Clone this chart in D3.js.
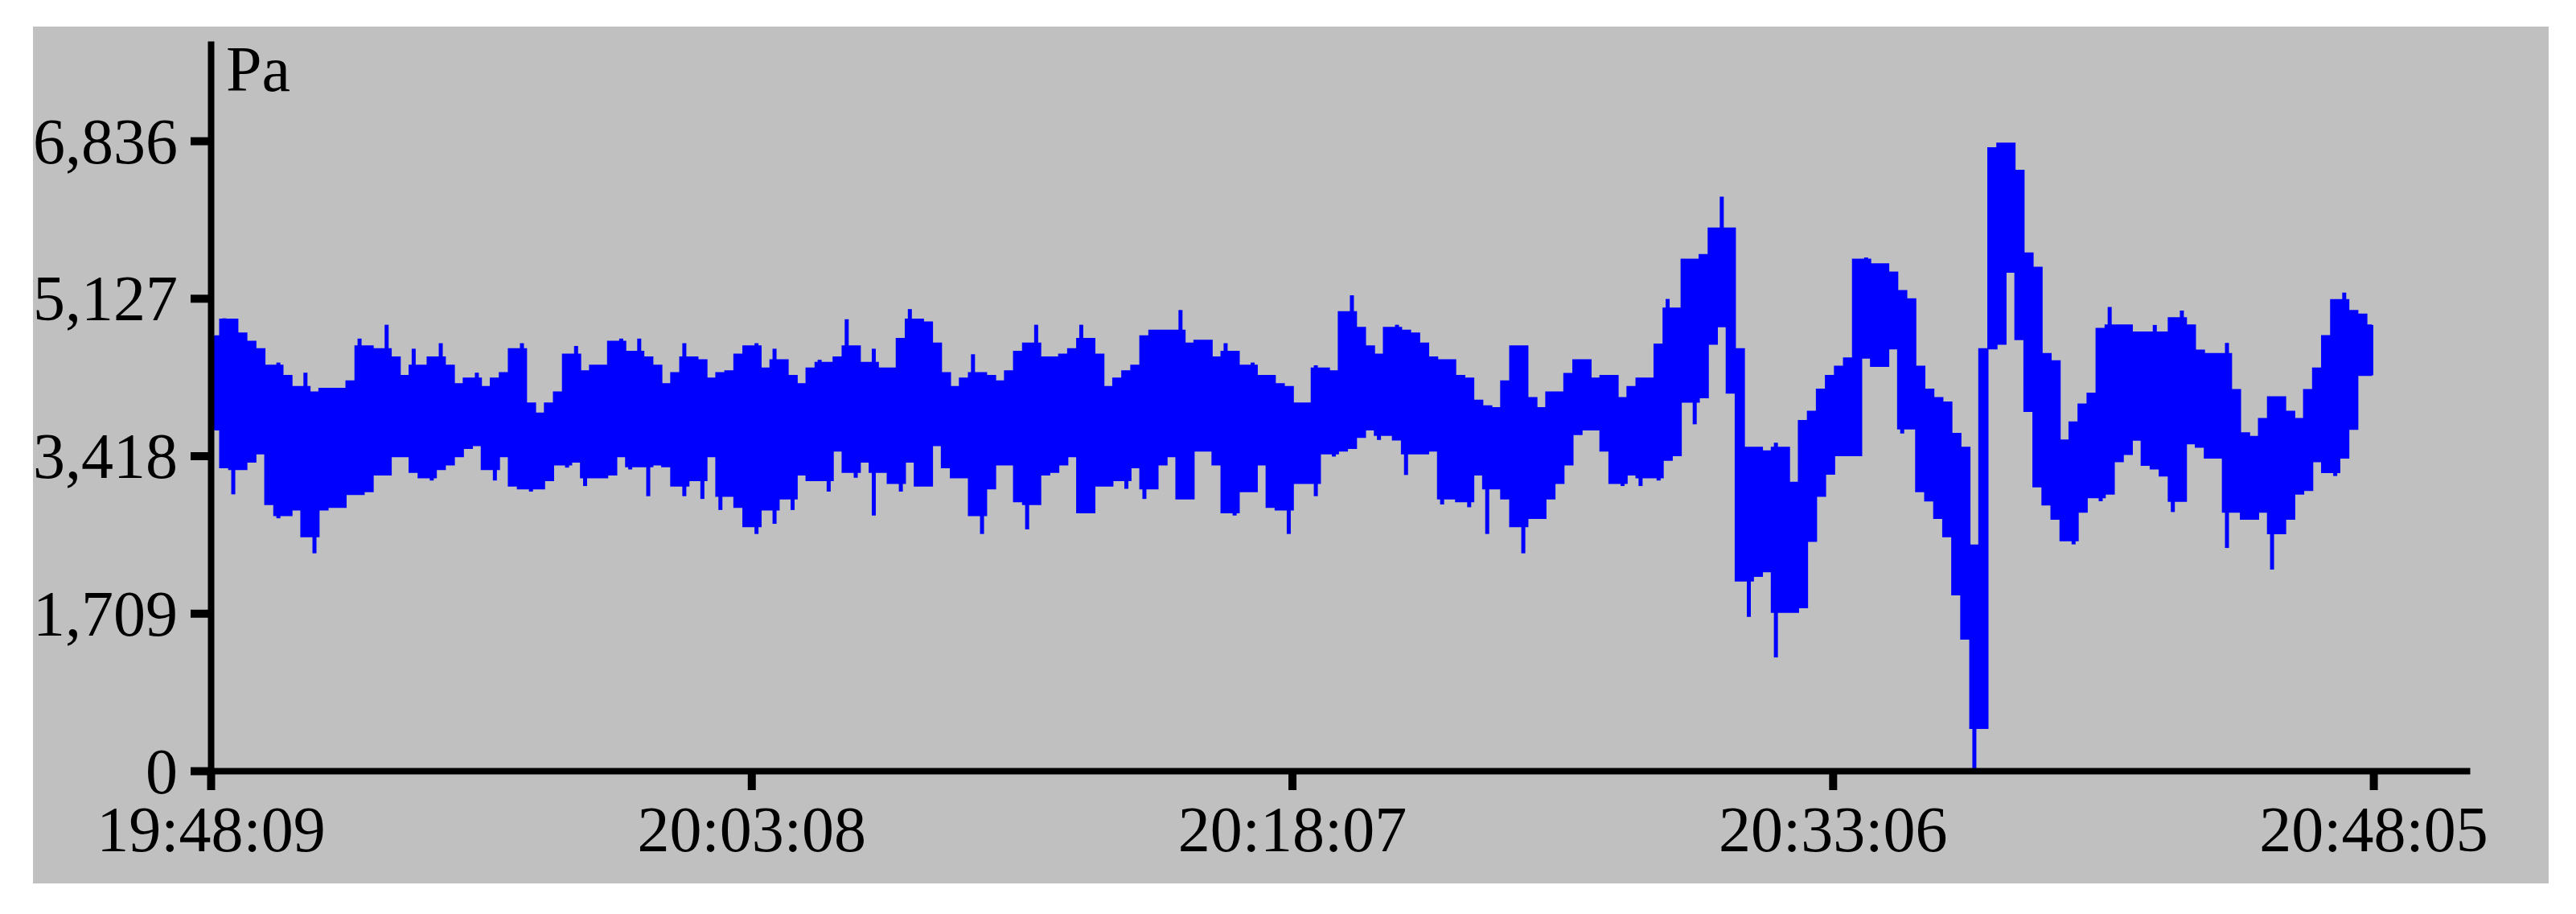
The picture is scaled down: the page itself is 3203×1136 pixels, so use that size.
<!DOCTYPE html>
<html><head><meta charset="utf-8">
<script src="https://cdn.jsdelivr.net/npm/d3@7"></script>
<style>html,body{margin:0;padding:0;background:#fff;} svg{display:block;}</style>
</head><body><svg id="chart" width="3203" height="1136"></svg>
<script>
// ---- data ----
const startTime = "19:48:09";
const xAxisEnd = "20:50:40";
const xTickLabels = ["19:48:09", "20:03:08", "20:18:07", "20:33:06", "20:48:05"];
const yTickValues = [0, 1709, 3418, 5127, 6836];
const yAxisMax = 7884;
const unitLabel = "Pa";
const binSeconds = 15;
// per-15s bin maximum (Pa)
const hi = [
4720,4910,4900,4750,4660,4580,4400,4430,4290,4170,4320,4110,4150,4150,4150,4230,4690,4610,4580,4840,
4490,4290,4580,4400,4490,4640,4400,4200,4260,4320,4170,4260,4320,4580,4640,3990,3880,3990,4110,4520,
4610,4340,4400,4400,4660,4690,4550,4690,4490,4400,4200,4320,4640,4490,4460,4260,4320,4340,4520,4610,
4640,4370,4580,4460,4290,4200,4370,4460,4430,4490,4900,4610,4430,4580,4370,4370,4690,5010,4900,4870,
4640,4320,4170,4260,4520,4320,4290,4230,4340,4550,4640,4840,4490,4490,4520,4580,4840,4690,4520,4170,
4260,4340,4400,4720,4780,4780,4780,5000,4640,4670,4670,4490,4640,4550,4400,4430,4290,4290,4200,4170,
3990,3990,4400,4370,4340,4980,5160,4810,4610,4520,4810,4840,4780,4750,4640,4490,4460,4460,4290,4260,
4020,3960,3940,4230,4610,4610,4050,3940,4110,4110,4310,4460,4460,4260,4290,4290,4050,4170,4260,4260,
4630,5120,5020,5550,5550,5600,5890,6230,5890,4580,3510,3510,3470,3560,3510,3130,3800,3900,4140,4290,
4390,4480,5550,5570,5500,5500,5410,5210,5120,4390,4140,4050,4000,3660,3510,2450,4580,6760,6810,6810,
6516,5619,5463,4526,4448,3589,3784,3979,4096,4799,5033,4838,4838,4760,4760,4838,4760,4916,4994,4838,
4565,4526,4526,4643,4136,3667,3628,3823,4057,4057,3901,3823,4136,4370,4721,5111,5189,4994,4955,4838
];
// per-15s bin minimum (Pa)
const lo = [
3700,3290,3000,3270,3350,3440,2890,2740,2770,2830,2540,2360,2830,2860,2860,3000,3000,3030,3210,3210,
3410,3410,3240,3180,3150,3270,3320,3410,3500,3530,3270,3150,3410,3090,3060,3030,3060,3150,3320,3290,
3350,3090,3180,3180,3210,3410,3270,3300,2980,3320,3300,3090,2980,3150,2950,3410,2830,2980,2860,2650,
2570,2830,2680,2950,2830,3210,3150,3150,3030,3470,3240,3180,3350,2770,3240,3120,3030,3350,3090,3090,
3530,3290,3180,3180,2770,2570,3060,3320,3320,2920,2620,2890,3210,3240,3320,3410,2800,2800,3090,3090,
3150,3060,3290,2950,3060,3320,3410,2950,2950,3470,3470,3320,2800,2770,3030,3030,3320,2860,2830,2570,
3120,3120,2980,3440,3410,3470,3500,3620,3700,3590,3640,3590,3210,3440,3440,3470,2890,2950,2920,2860,
3210,2570,3060,2950,2650,2360,2740,2740,2950,3120,3320,3650,3700,3700,3470,3120,3090,3210,3090,3180,
3150,3370,3420,4000,3760,4050,4630,4820,4100,2060,1670,2110,2160,1230,1720,1720,1770,2490,2980,3220,
3420,3420,3420,4480,4390,4390,4580,3660,3710,3030,2930,2740,2540,1910,1430,0,460,4580,4630,5410,
4680,3901,3082,2886,2730,2496,2457,2808,2964,2925,3003,3355,3433,3589,3316,3277,3199,2808,2925,3550,
3511,3394,3394,2418,2808,2730,2730,2808,2184,2574,2730,3004,3043,3355,3238,3199,3394,3706,4292,4292
];

// ---- chart ----
const svg = d3.select("#chart");
const parse = d3.timeParse("%H:%M:%S");
const t0 = parse(startTime);
const t1 = parse(xAxisEnd);
const FONT = "'Liberation Serif', 'Times New Roman', serif";
const BLUE = "#0000ff";

svg.append("rect").attr("x", 41).attr("y", 33).attr("width", 3128).attr("height", 1065).attr("fill", "#c0c0c0");

const x = d3.scaleTime().domain([t0, t1]).range([262, 3067]);
const y = d3.scaleLinear().domain([0, yAxisMax]).range([958, 55]);

const data = hi.map((h, i) => ({
  t: new Date(+t0 + (i * binSeconds + binSeconds / 2) * 1000),
  hi: h, lo: lo[i]
}));
// core band: a bin's extreme that exceeds both neighbours is drawn as a thin spike instead
const n = data.length;
data.forEach((d, i) => {
  const pH = i > 0 ? data[i - 1].hi : d.hi, nH = i < n - 1 ? data[i + 1].hi : d.hi;
  const pL = i > 0 ? data[i - 1].lo : d.lo, nL = i < n - 1 ? data[i + 1].lo : d.lo;
  d.coreHi = Math.min(d.hi, Math.max(pH, nH));
  d.coreLo = Math.max(d.lo, Math.min(pL, nL));
  if (d.coreLo > d.coreHi) d.coreLo = d.coreHi;
});

const area = d3.area()
  .x(d => x(d.t))
  .y0(d => y(d.coreLo))
  .y1(d => y(d.coreHi))
  .curve(d3.curveStep);

svg.append("path").datum(data)
  .attr("d", area)
  .attr("fill", BLUE)
  .attr("stroke", BLUE)
  .attr("stroke-width", 1.5);

svg.append("g").selectAll("rect").data(data).join("rect")
  .attr("x", d => x(d.t) - 2.5)
  .attr("width", 5)
  .attr("y", d => y(d.hi))
  .attr("height", d => y(d.lo) - y(d.hi))
  .attr("fill", BLUE);

// axes
const gX = svg.append("g").attr("transform", "translate(0,958)")
  .call(d3.axisBottom(x)
    .tickValues(xTickLabels.map(parse))
    .tickFormat(d3.timeFormat("%H:%M:%S"))
    .tickSize(24).tickSizeOuter(0));
const gY = svg.append("g").attr("transform", "translate(262,0)")
  .call(d3.axisLeft(y)
    .tickValues(yTickValues)
    .tickFormat(d3.format(","))
    .tickSize(25).tickSizeOuter(0).tickPadding(16));

[gX, gY].forEach(g => {
  g.attr("font-family", FONT).attr("font-size", 80);
  g.select(".domain").attr("stroke", "#000").attr("stroke-width", 8).attr("stroke-linecap", "square");
  g.selectAll(".tick line").attr("stroke", "#000").attr("stroke-width", 10);
  g.selectAll(".tick text").attr("fill", "#000");
});
gX.selectAll(".tick text").attr("y", 100).attr("dy", null);
gY.selectAll(".tick text").attr("dy", "0.34em");

svg.append("text").attr("x", 281).attr("y", 113)
  .attr("font-family", FONT).attr("font-size", 80).attr("fill", "#000")
  .text(unitLabel);
</script>
</body></html>
